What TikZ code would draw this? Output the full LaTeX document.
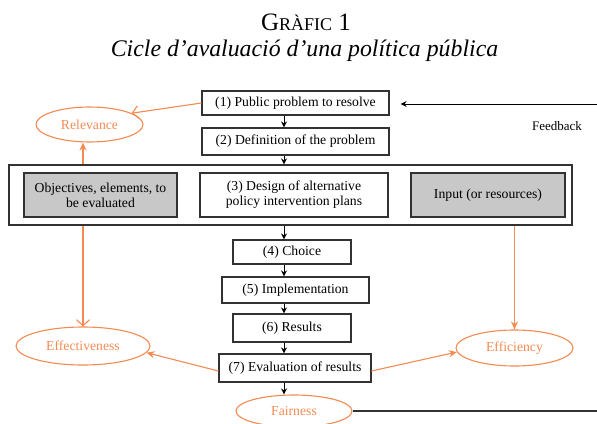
\documentclass[tikz,border=0pt]{standalone}
\usepackage{fontspec}
\setmainfont{Liberation Serif}
\usetikzlibrary{shapes.geometric,arrows.meta}
\definecolor{org}{RGB}{243,138,82}
\definecolor{boxgray}{RGB}{200,200,200}
\definecolor{edge}{RGB}{50,50,50}
\tikzset{
  stepbox/.style={draw=edge,line width=1.1pt,fill=white,inner sep=0pt,align=center,font=\fontsize{13.7}{15}\selectfont},
  graybox/.style={stepbox,fill=boxgray},
  crit/.style={ellipse,draw=org,line width=1.1pt,inner sep=0pt,text=org,font=\fontsize{13.7}{15}\selectfont},
  blk/.style={draw=black,line width=0.9pt,-{Stealth[length=6pt,width=6pt]}},
  oarr/.style={draw=org,line width=1.1pt,-{Stealth[length=8pt,width=7pt]}},
  oopen/.style={draw=org,line width=1.1pt,-{Straight Barb[length=6pt,width=13pt]}},
}
\begin{document}
\begin{tikzpicture}[x=1pt,y=-1pt]
\useasboundingbox (0,0) rectangle (597,423);
\clip (0,0) rectangle (597,423);
% title
\node[font=\fontsize{25}{27}\selectfont,anchor=base] (t1) at (306,30) {G{\fontsize{18}{20}\selectfont RÀFIC} 1};
\node[font=\fontsize{23.8}{26}\selectfont\itshape,anchor=base] (t2) at (304.5,56) {Cicle d’avaluació d’una política pública};
% main column
\node[stepbox,minimum width=187pt,minimum height=24pt] (p1) at (295.5,103) {(1) Public problem to resolve};
\node[stepbox,minimum width=187pt,minimum height=27pt] (p2) at (295.5,141.5) {(2) Definition of the problem};
\node[stepbox,minimum width=563pt,minimum height=60pt] (big) at (290.5,195) {};
\node[graybox,minimum width=153pt,minimum height=44pt] (obj) at (100.5,195) {Objectives, elements, to\\be evaluated};
\node[stepbox,minimum width=188pt,minimum height=44pt] (p3) at (294,195) {(3) Design of alternative\\policy intervention plans};
\node[graybox,minimum width=154pt,minimum height=44pt] (inp) at (488,195) {Input (or resources)};
\node[stepbox,minimum width=118pt,minimum height=24pt] (p4) at (292,252) {(4) Choice};
\node[stepbox,minimum width=147pt,minimum height=26pt] (p5) at (295.5,290) {(5) Implementation};
\node[stepbox,minimum width=118pt,minimum height=28pt] (p6) at (292,328) {(6) Results};
\node[stepbox,minimum width=152pt,minimum height=28pt] (p7) at (295,368) {(7) Evaluation of results};
% criteria
\node[crit,minimum width=107pt,minimum height=35pt] (rel) at (89.5,124.5) {Relevance};
\node[crit,minimum width=134pt,minimum height=38pt] (eff) at (83,346) {Effectiveness};
\node[crit,minimum width=117pt,minimum height=36pt] (effi) at (514.5,348) {Efficiency};
\node[crit,minimum width=116pt,minimum height=32pt] (fair) at (294,411) {Fairness};
\node[font=\fontsize{13}{15}\selectfont] (fb) at (557,126) {Feedback};
% black flow arrows
\coordinate (ax) at (284,0);
\draw[blk] (p1.south -| ax) -- (p2.north -| ax);
\draw[blk] (p2.south -| ax) -- (big.north -| ax);
\draw[blk] (big.south -| ax) -- (p4.north -| ax);
\draw[blk] (p4.south -| ax) -- (p5.north -| ax);
\draw[blk] (p5.south -| ax) -- (p6.north -| ax);
\draw[blk] (p6.south -| ax) -- (p7.north -| ax);
\draw[blk] (p7.south -| ax) -- (fair.north -| ax);
% feedback loop
\coordinate (fbR) at (620,0);
\coordinate (fbT) at (620,104);
\draw[draw=edge,line width=1.1pt] (fair.east) -- (fair.east -| fbR);
\draw[blk,shorten >=11pt] (fbT) -- (p1.east |- fbT);
% orange arrows
\draw[oopen] (p1.west) -- (rel.15);
\draw[oarr] (eff.north |- big.north) -- (eff.north |- rel.south);
\draw[oopen] (eff.north |- big.south) -- (eff.north);
\draw[oarr] (effi.north |- big.south) -- (effi.north);
\draw[oarr] ([yshift=-3pt]p7.west) -- (eff.-6);
\draw[oarr] ([yshift=-3pt]p7.east) -- (effi.184);
\end{tikzpicture}
\end{document}
